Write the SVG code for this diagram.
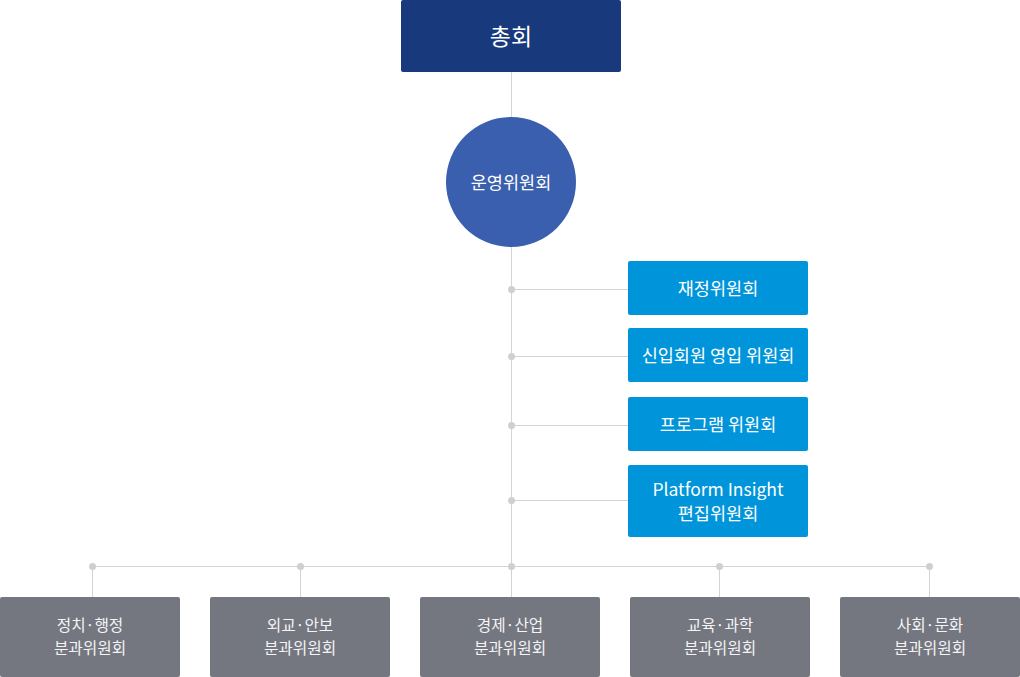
<svg xmlns="http://www.w3.org/2000/svg" width="1020" height="677" viewBox="0 0 1020 677">
<style>
text{font-family:"Noto Sans CJK KR","Noto Sans",sans-serif;fill:#fff;text-anchor:middle}
.ln{stroke:#d4d4d4;stroke-width:1;fill:none}
.dot{fill:#cfcfcf}
.blue{fill:#0095da}
.gray{fill:#757780}
.t15{font-size:15.7px;fill:#f4f4f6}
.t16{font-size:17.5px}
</style>
<rect width="1020" height="677" fill="#fff"/>
<g id="connectors">
<path class="ln" d="M511.5 72V566.5M511.5 289.5H628M511.5 356.5H628M511.5 425.5H628M511.5 500.5H628M92.5 566.5H929.5M92.5 566V597M300.5 566V597M511.5 566V597M719.5 566V597M929.5 566V597"/>
<circle class="dot" cx="511.5" cy="289.5" r="3.5"/>
<circle class="dot" cx="511.5" cy="356.5" r="3.5"/>
<circle class="dot" cx="511.5" cy="425.5" r="3.5"/>
<circle class="dot" cx="511.5" cy="500.5" r="3.5"/>
<circle class="dot" cx="92.5" cy="566.5" r="3.5"/>
<circle class="dot" cx="300.5" cy="566.5" r="3.5"/>
<circle class="dot" cx="511.5" cy="566.5" r="3.5"/>
<circle class="dot" cx="719.5" cy="566.5" r="3.5"/>
<circle class="dot" cx="929.5" cy="566.5" r="3.5"/>
</g>
<g id="n-general">
<rect x="401" y="0" width="220" height="72" rx="2" fill="#183a7c"/>
<text x="511" y="44.5" style="font-size:23px">총회</text>
</g>
<g id="n-steering">
<circle cx="511" cy="182" r="65" fill="#3a5fae"/>
<text class="t16" x="511" y="188.5">운영위원회</text>
</g>
<g id="n-finance">
<rect class="blue" x="628" y="261" width="180" height="54" rx="2"/>
<text class="t16" x="718" y="294.5">재정위원회</text>
</g>
<g id="n-recruit">
<rect class="blue" x="628" y="328" width="180" height="54" rx="2"/>
<text class="t16" x="718" y="361.5">신입회원 영입 위원회</text>
</g>
<g id="n-program">
<rect class="blue" x="628" y="397" width="180" height="54" rx="2"/>
<text class="t16" x="718" y="430.5">프로그램 위원회</text>
</g>
<g id="n-platform">
<rect class="blue" x="628" y="465" width="180" height="72" rx="2"/>
<text class="t16" x="718" y="496">Platform Insight</text>
<text class="t16" x="718" y="520">편집위원회</text>
</g>
<g id="n-politics">
<rect class="gray" x="0" y="597" width="180" height="80" rx="2"/>
<text class="t15" x="90" y="631">정치·행정</text>
<text class="t15" x="90" y="654">분과위원회</text>
</g>
<g id="n-diplomacy">
<rect class="gray" x="210" y="597" width="180" height="80" rx="2"/>
<text class="t15" x="300" y="631">외교·안보</text>
<text class="t15" x="300" y="654">분과위원회</text>
</g>
<g id="n-economy">
<rect class="gray" x="420" y="597" width="180" height="80" rx="2"/>
<text class="t15" x="510" y="631">경제·산업</text>
<text class="t15" x="510" y="654">분과위원회</text>
</g>
<g id="n-education">
<rect class="gray" x="630" y="597" width="180" height="80" rx="2"/>
<text class="t15" x="720" y="631">교육·과학</text>
<text class="t15" x="720" y="654">분과위원회</text>
</g>
<g id="n-society">
<rect class="gray" x="840" y="597" width="180" height="80" rx="2"/>
<text class="t15" x="930" y="631">사회·문화</text>
<text class="t15" x="930" y="654">분과위원회</text>
</g>
</svg>
